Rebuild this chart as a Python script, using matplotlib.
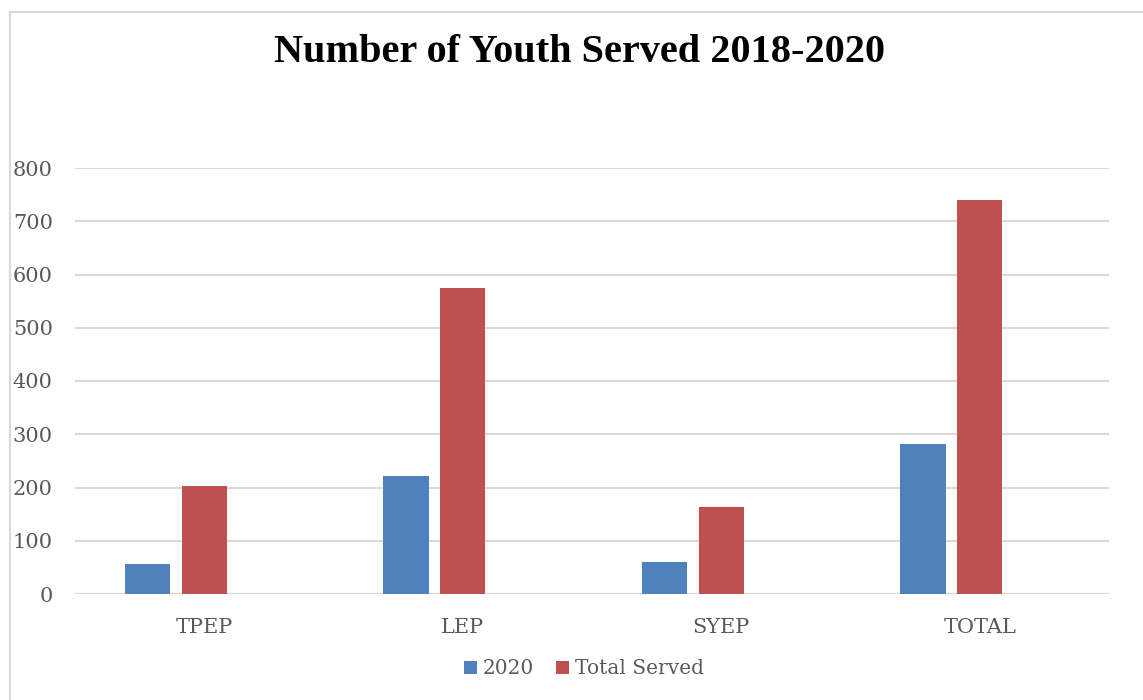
import numpy as np
import matplotlib.pyplot as plt
from matplotlib.patches import Rectangle

categories = ['TPEP', 'LEP', 'SYEP', 'TOTAL']
served_2020 = [56, 222, 60, 282]
total_served = [203, 574, 163, 739]

blue = '#4F81BD'
red = '#C0504D'
grid_col = '#D9D9D9'
text_col = '#595959'

W, H = 1143, 700
fig = plt.figure(figsize=(W / 100, H / 100), dpi=100)
ax = fig.add_axes([75 / W, 1 - 594 / H, (1109 - 75) / W, (594 - 168) / H])

x = np.arange(len(categories))
bw = 0.176
slot = 0.22
ax.bar(x - slot, served_2020, bw, color=blue, label='2020', zorder=3)
ax.bar(x, total_served, bw, color=red, label='Total Served', zorder=3)

ax.set_xlim(-0.5, 3.5)
ax.set_ylim(0, 800)
ax.set_yticks(range(0, 801, 100))
ax.set_xticks(x)
ax.set_xticklabels(categories)
ax.yaxis.grid(True, color=grid_col, linewidth=1.5, zorder=0)
ax.set_axisbelow(True)
for s in ax.spines.values():
    s.set_visible(False)
ax.axhline(0, color=grid_col, linewidth=1.5, zorder=1)
ax.tick_params(length=0, labelcolor=text_col, labelsize=15)
ax.tick_params(axis='y', pad=16)
ax.tick_params(axis='x', pad=17)
for lab in ax.get_xticklabels() + ax.get_yticklabels():
    lab.set_fontfamily('DejaVu Serif')

fig.text(580 / W, 1 - 53 / H, 'Number of Youth Served 2018-2020', ha='center', va='center',
         fontsize=29, fontweight='bold', family='Liberation Serif', color='black')

leg = fig.legend(loc='center', bbox_to_anchor=(584 / W, 1 - 669 / H), ncol=2, frameon=False,
                 prop={'family': 'DejaVu Serif', 'size': 14.5}, handlelength=0.65, handleheight=0.65,
                 handletextpad=0.3, columnspacing=1.1, labelcolor=text_col)

fig.patches.append(Rectangle((9.5 / W, -0.1), 1.2, 1 - 11.5 / H + 0.1, transform=fig.transFigure,
                             fill=False, edgecolor=grid_col, linewidth=1.5))

fig.savefig('out.png', dpi=100)
